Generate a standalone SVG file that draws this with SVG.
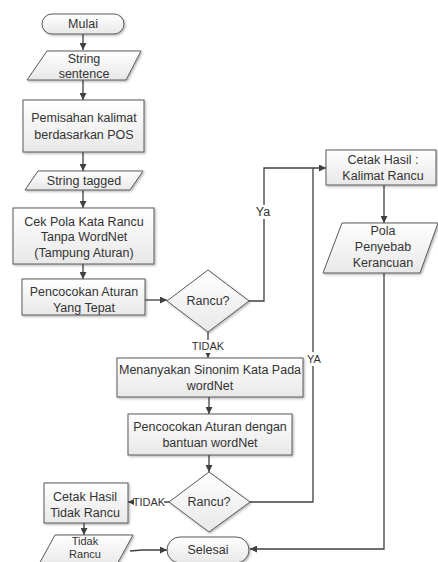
<svg xmlns="http://www.w3.org/2000/svg" width="438" height="562" viewBox="0 0 438 562">
<defs>
<linearGradient id="g" x1="0" y1="0" x2="0" y2="1">
<stop offset="0" stop-color="#ffffff"/>
<stop offset="1" stop-color="#e8e8e8"/>
</linearGradient>
<filter id="sh" x="-10%" y="-10%" width="130%" height="140%">
<feDropShadow dx="1.2" dy="1.2" stdDeviation="0.8" flood-color="#000" flood-opacity="0.3"/>
</filter>
<marker id="ah" viewBox="0 0 10 10" refX="10" refY="5" markerWidth="7" markerHeight="7" markerUnits="userSpaceOnUse" orient="auto">
<path d="M0,0 L10,5 L0,10 Z" fill="#404040"/>
</marker>
</defs>
<style>
.s{fill:url(#g);stroke:#5a5a5a;stroke-width:1;filter:url(#sh)}
.t{font-family:"Liberation Sans",Arial,sans-serif;font-size:12.5px;fill:#333;text-anchor:middle;dominant-baseline:central}
.l{font-family:"Liberation Sans",Arial,sans-serif;font-size:11px;fill:#333;text-anchor:middle;dominant-baseline:central}
.c{fill:none;stroke:#404040;stroke-width:1.3}
.bg{fill:#fff}
</style>
<rect width="438" height="562" fill="#fff"/>

<g id="connectors">
<path class="c" d="M83,34 V50" marker-end="url(#ah)"/>
<path class="c" d="M83,80 V100" marker-end="url(#ah)"/>
<path class="c" d="M83,152 V171" marker-end="url(#ah)"/>
<path class="c" d="M83,190 V208" marker-end="url(#ah)"/>
<path class="c" d="M83,264 V279" marker-end="url(#ah)"/>
<path class="c" d="M145,300 H167" marker-end="url(#ah)"/>
<path class="c" d="M249,301 H264 V168 H326" marker-end="url(#ah)"/>
<path class="c" d="M384,185 V223" marker-end="url(#ah)"/>
<path class="c" d="M384,273 V549 H250" marker-end="url(#ah)"/>
<path class="c" d="M208,332 V358" marker-end="url(#ah)"/>
<path class="c" d="M209,397 V414" marker-end="url(#ah)"/>
<path class="c" d="M209,455 V472" marker-end="url(#ah)"/>
<path class="c" d="M250,502 H313 V168"/>
<path class="c" d="M169,502 H128" marker-end="url(#ah)"/>
<path class="c" d="M84,523 V535" marker-end="url(#ah)"/>
<path class="c" d="M130,551 L142,550 H167" marker-end="url(#ah)"/>
<rect class="bg" x="256" y="205" width="16" height="14"/>
<text class="t" x="263" y="212">Ya</text>
<rect class="bg" x="191" y="340" width="34" height="13"/>
<text class="l" x="208" y="346">TIDAK</text>
<rect class="bg" x="305" y="352" width="18" height="14"/>
<text class="l" x="314" y="359">YA</text>
<rect class="bg" x="134" y="496" width="30" height="12"/>
<text class="l" x="149" y="502">TIDAK</text>
</g>

<g id="mulai">
<rect class="s" x="42" y="14" width="82" height="20" rx="10"/>
<text class="t" x="83" y="24">Mulai</text>
</g>

<g id="string-sentence">
<polygon class="s" points="47,51 141,51 126,80 27,80"/>
<text class="t" x="84" y="59">String</text>
<text class="t" x="84" y="74">sentence</text>
</g>

<g id="pemisahan">
<rect class="s" x="23" y="100" width="121" height="52"/>
<text class="t" x="84" y="118">Pemisahan kalimat</text>
<text class="t" x="84" y="135">berdasarkan POS</text>
</g>

<g id="string-tagged">
<polygon class="s" points="38,171 143,171 130,190 25,190"/>
<text class="t" x="84" y="181">String tagged</text>
</g>

<g id="cek-pola">
<rect class="s" x="13" y="208" width="141" height="56"/>
<text class="t" x="84" y="222">Cek Pola Kata Rancu</text>
<text class="t" x="84" y="237">Tanpa WordNet</text>
<text class="t" x="84" y="253">(Tampung Aturan)</text>
</g>

<g id="pencocokan-tepat">
<rect class="s" x="22" y="279" width="123" height="36"/>
<text class="t" x="84" y="292">Pencocokan Aturan</text>
<text class="t" x="84" y="308">Yang Tepat</text>
</g>

<g id="rancu1">
<polygon class="s" points="208,270 249,301 208,332 167,301"/>
<text class="t" x="208" y="301">Rancu?</text>
</g>

<g id="cetak-rancu">
<rect class="s" x="326" y="150" width="110" height="35"/>
<text class="t" x="383" y="160">Cetak Hasil :</text>
<text class="t" x="383" y="176">Kalimat Rancu</text>
</g>

<g id="pola-penyebab">
<polygon class="s" points="342,223 438,223 420,273 323,273"/>
<text class="t" x="383" y="231">Pola</text>
<text class="t" x="383" y="247">Penyebab</text>
<text class="t" x="383" y="263">Kerancuan</text>
</g>

<g id="menanyakan">
<rect class="s" x="117" y="358" width="186" height="39"/>
<text class="t" x="210" y="370">Menanyakan Sinonim Kata Pada</text>
<text class="t" x="210" y="386">wordNet</text>
</g>

<g id="pencocokan-wordnet">
<rect class="s" x="128" y="414" width="164" height="41"/>
<text class="t" x="210" y="427">Pencocokan Aturan dengan</text>
<text class="t" x="210" y="443">bantuan wordNet</text>
</g>

<g id="rancu2">
<polygon class="s" points="209,472 250,502 209,532 169,502"/>
<text class="t" x="209" y="502">Rancu?</text>
</g>

<g id="cetak-tidak-rancu">
<rect class="s" x="44" y="483" width="84" height="40"/>
<text class="t" x="85" y="497">Cetak Hasil</text>
<text class="t" x="85" y="513">Tidak Rancu</text>
</g>

<g id="tidak-rancu">
<polygon class="s" points="55,535 133,535 116,566 38,566"/>
<text class="t" x="85" y="541" style="font-size:11px">Tidak</text>
<text class="t" x="85" y="554" style="font-size:11px">Rancu</text>
</g>

<g id="selesai">
<rect class="s" x="167" y="537" width="82" height="26" rx="13"/>
<text class="t" x="208" y="550">Selesai</text>
</g>
</svg>
